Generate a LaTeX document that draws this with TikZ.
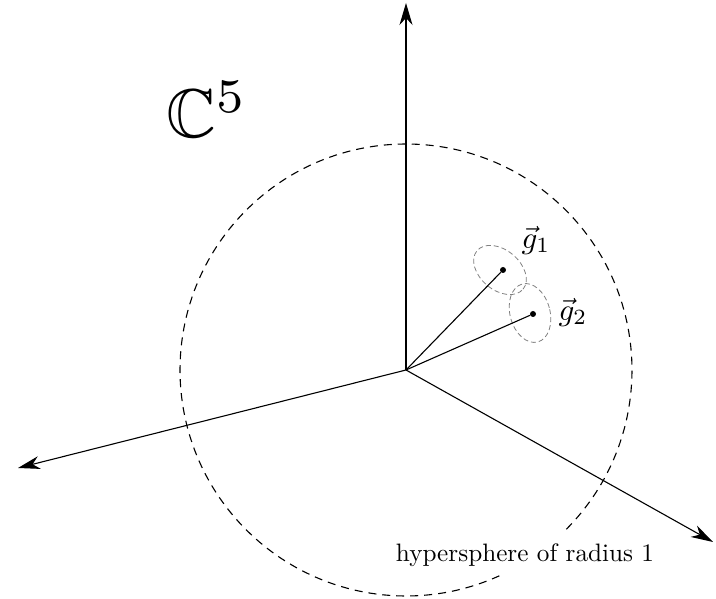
\documentclass[tikz,border=0pt]{standalone}
\usepackage{amssymb}
\usetikzlibrary{arrows.meta}
\begin{document}
\begin{tikzpicture}[x=1pt,y=1pt,
  axis/.style={line width=1.1pt,-{Stealth[length=22pt,width=13pt,inset=7pt]}},
  vecline/.style={line width=1.1pt},
  sphere/.style={line width=1.1pt,dash pattern=on 8pt off 6pt},
  blob/.style={draw=gray,line width=0.8pt,dash pattern=on 5pt off 3pt},
  dot/.style={circle,fill=black,inner sep=0pt,minimum size=6pt},
  lbl/.style={font=\fontsize{10}{12}\selectfont,scale=2.52},
  glbl/.style={font=\fontsize{10}{12}\selectfont,scale=3.1}]
\useasboundingbox (0,0) rectangle (716,599);
\coordinate (O) at (406,229);
\coordinate (up) at (406,596);
\coordinate (left) at (18,131);
\coordinate (right) at (713,57);
% hypersphere (dashed, with a gap near the label)
\draw[sphere] (O) ++(-44.8:226) arc[start angle=-44.8,end angle=295.3,radius=226];
% axes
\draw[axis] (O) -- (up);
\draw[axis] (O) -- (left);
\draw[axis] (O) -- (right);
% small uncertainty ellipses
\draw[blob] (500,329) ellipse[x radius=30,y radius=20,rotate=-40];
\draw[blob] (530,286) ellipse[x radius=20,y radius=30,rotate=15];
% vectors
\node[dot] (g1) at (503,329) {};
\node[dot] (g2) at (533,285) {};
\draw[vecline] (O) -- (g1);
\draw[vecline] (O) -- (g2);
\node[glbl] (l1) at (536,359) {$\vec g_1$};
\node[glbl] (l2) at (573,287) {$\vec g_2$};
\node[font=\fontsize{10}{12}\selectfont,scale=6.9] (C) at (207,490) {$\mathbb{C}^5$};
\node[lbl] (hs) at (525,44) {hypersphere of radius 1};
\end{tikzpicture}
\end{document}
